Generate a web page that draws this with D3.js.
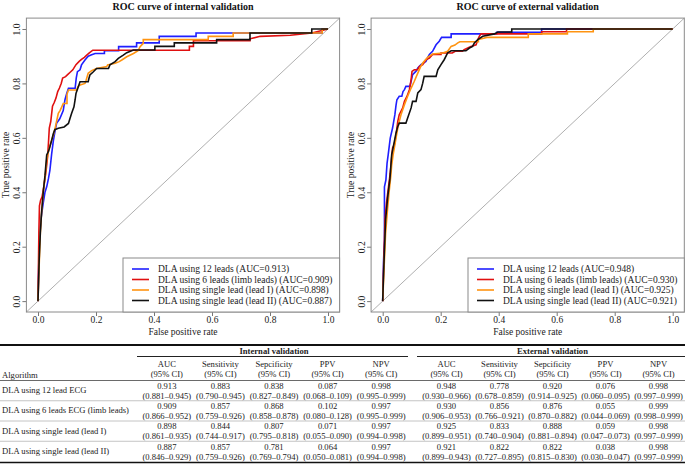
<!DOCTYPE html>
<html><head><meta charset="utf-8">
<script src="https://cdn.jsdelivr.net/npm/d3@7"></script>
<style>
html,body{margin:0;padding:0;background:#fff;}
svg{display:block;font-family:"Liberation Serif","Times New Roman",serif;}
</style></head>
<body><svg id="c" width="685" height="473"></svg>
<script>
// ---------- ROC data: [false positive rate, true positive rate] ----------
const intBlue = [[0,0],[0.004,0.2],[0.01,0.3],[0.018,0.36],[0.024,0.40],[0.03,0.42],[0.036,0.45],[0.041,0.48],[0.047,0.54],[0.053,0.59],[0.058,0.62],[0.064,0.653],[0.075,0.67],[0.087,0.70],[0.093,0.74],[0.099,0.763],[0.105,0.782],[0.128,0.782],[0.132,0.82],[0.136,0.843],[0.145,0.85],[0.15,0.868],[0.162,0.886],[0.173,0.90],[0.185,0.905],[0.197,0.91],[0.229,0.91],[0.229,0.92],[0.278,0.92],[0.278,0.935],[0.34,0.935],[0.34,0.949],[0.418,0.949],[0.418,0.973],[0.545,0.973],[0.545,0.985],[0.98,0.985],[0.98,1],[1,1]];
const intRed = [[0,0],[0.003,0.25],[0.005,0.35],[0.009,0.371],[0.014,0.383],[0.02,0.42],[0.028,0.48],[0.033,0.53],[0.036,0.58],[0.039,0.636],[0.044,0.66],[0.05,0.716],[0.056,0.73],[0.062,0.746],[0.068,0.77],[0.074,0.783],[0.08,0.80],[0.085,0.82],[0.095,0.825],[0.102,0.832],[0.11,0.84],[0.12,0.85],[0.131,0.869],[0.142,0.881],[0.15,0.888],[0.16,0.896],[0.168,0.904],[0.177,0.912],[0.189,0.922],[0.522,0.922],[0.522,0.936],[0.536,0.936],[0.536,0.957],[0.731,0.957],[0.731,0.964],[0.766,0.973],[0.87,0.977],[0.944,0.985],[1,1]];
const intOrange = [[0,0],[0.003,0.1],[0.008,0.25],[0.012,0.32],[0.02,0.42],[0.025,0.46],[0.03,0.518],[0.036,0.55],[0.041,0.57],[0.047,0.592],[0.053,0.61],[0.059,0.635],[0.064,0.66],[0.07,0.69],[0.076,0.70],[0.082,0.714],[0.087,0.726],[0.1,0.726],[0.1,0.76],[0.105,0.776],[0.133,0.776],[0.138,0.789],[0.145,0.794],[0.162,0.80],[0.166,0.812],[0.173,0.837],[0.185,0.847],[0.202,0.855],[0.237,0.862],[0.24,0.868],[0.266,0.874],[0.28,0.88],[0.289,0.886],[0.306,0.898],[0.329,0.91],[0.345,0.92],[0.352,0.935],[0.363,0.947],[0.363,0.961],[0.587,0.961],[0.587,0.973],[0.673,0.973],[0.673,0.985],[0.98,0.985],[0.98,1],[1,1]];
const intBlack = [[0,0],[0.004,0.15],[0.008,0.25],[0.012,0.32],[0.018,0.40],[0.024,0.46],[0.03,0.537],[0.036,0.55],[0.041,0.567],[0.047,0.59],[0.053,0.616],[0.058,0.63],[0.07,0.635],[0.09,0.64],[0.105,0.653],[0.11,0.67],[0.116,0.69],[0.124,0.714],[0.128,0.74],[0.131,0.763],[0.139,0.788],[0.145,0.806],[0.173,0.806],[0.176,0.82],[0.179,0.831],[0.191,0.843],[0.202,0.855],[0.243,0.855],[0.248,0.868],[0.266,0.88],[0.277,0.892],[0.294,0.904],[0.306,0.913],[0.329,0.923],[0.403,0.923],[0.403,0.936],[0.47,0.936],[0.47,0.949],[0.616,0.949],[0.616,0.961],[0.731,0.961],[0.731,0.985],[0.944,0.985],[0.944,1],[1,1]];

const extBlue = [[0,0],[0.003,0.15],[0.006,0.224],[0.006,0.42],[0.011,0.445],[0.015,0.506],[0.019,0.538],[0.026,0.599],[0.034,0.636],[0.042,0.685],[0.046,0.72],[0.049,0.74],[0.057,0.753],[0.066,0.753],[0.07,0.77],[0.075,0.777],[0.08,0.789],[0.094,0.789],[0.098,0.808],[0.103,0.832],[0.115,0.845],[0.121,0.857],[0.132,0.869],[0.149,0.881],[0.155,0.895],[0.161,0.906],[0.172,0.918],[0.184,0.942],[0.195,0.955],[0.203,0.969],[0.236,0.969],[0.236,0.982],[0.393,0.982],[0.393,0.988],[0.548,0.988],[0.548,1],[1,1]];
const extRed = [[0,0],[0.003,0.12],[0.008,0.3],[0.013,0.36],[0.02,0.42],[0.026,0.47],[0.034,0.5625],[0.04,0.575],[0.046,0.611],[0.052,0.66],[0.057,0.685],[0.069,0.71],[0.075,0.734],[0.084,0.753],[0.092,0.777],[0.098,0.814],[0.101,0.844],[0.109,0.85],[0.12,0.85],[0.126,0.862],[0.138,0.869],[0.149,0.887],[0.161,0.893],[0.172,0.906],[0.201,0.906],[0.201,0.912],[0.24,0.912],[0.25,0.918],[0.275,0.918],[0.281,0.924],[0.304,0.936],[0.322,0.942],[0.328,0.961],[0.333,0.973],[0.339,0.982],[0.548,0.982],[0.548,0.99],[0.634,0.99],[0.634,1],[1,1]];
const extOrange = [[0,0],[0.003,0.08],[0.01,0.25],[0.016,0.33],[0.022,0.40],[0.028,0.46],[0.031,0.50],[0.036,0.538],[0.04,0.5625],[0.046,0.6],[0.052,0.636],[0.057,0.66],[0.063,0.685],[0.075,0.722],[0.086,0.753],[0.098,0.783],[0.109,0.808],[0.121,0.838],[0.13,0.86],[0.138,0.875],[0.155,0.896],[0.172,0.908],[0.207,0.912],[0.224,0.918],[0.236,0.936],[0.249,0.941],[0.259,0.949],[0.266,0.953],[0.33,0.953],[0.33,0.961],[0.359,0.969],[0.502,0.969],[0.502,0.982],[0.637,0.982],[0.637,0.99],[0.726,0.99],[0.726,1],[1,1]];
const extBlack = [[0,0],[0.003,0.1],[0.01,0.3],[0.017,0.38],[0.025,0.45],[0.031,0.538],[0.038,0.575],[0.046,0.618],[0.052,0.642],[0.057,0.654],[0.08,0.654],[0.086,0.673],[0.098,0.71],[0.103,0.734],[0.115,0.734],[0.121,0.765],[0.132,0.777],[0.138,0.801],[0.143,0.826],[0.184,0.826],[0.19,0.85],[0.201,0.869],[0.212,0.887],[0.224,0.912],[0.236,0.92],[0.287,0.92],[0.299,0.93],[0.31,0.936],[0.316,0.949],[0.328,0.961],[0.345,0.973],[0.385,0.982],[0.397,0.989],[0.445,0.989],[0.445,1],[1,1]];

const seriesNames = ["DLA using 12 leads","DLA using 6 leads (limb leads)","DLA using single lead (lead I)","DLA using single lead (lead II)"];
const seriesColors = ["#1f1fff","#e01010","#ff9411","#111111"];
const intAUC = ["0.913","0.909","0.898","0.887"];
const extAUC = ["0.948","0.930","0.925","0.921"];
const axisTicks = [0,0.2,0.4,0.6,0.8,1.0];

// ---------- table data ----------
const algorithms = ["DLA using 12 lead ECG","DLA using 6 leads ECG (limb leads)","DLA using single lead (lead I)","DLA using single lead (lead II)"];
const metrics = ["AUC","Sensitivity","Sepcificity","PPV","NPV"];
const internalEst = [[0.913,0.883,0.838,0.087,0.998],[0.909,0.857,0.868,0.102,0.997],[0.898,0.844,0.807,0.071,0.997],[0.887,0.857,0.781,0.064,0.997]];
const internalCI = [["0.881–0.945","0.790–0.945","0.827–0.849","0.068–0.109","0.995–0.999"],["0.866–0.952","0.759–0.926","0.858–0.878","0.080–0.128","0.995–0.999"],["0.861–0.935","0.744–0.917","0.795–0.818","0.055–0.090","0.994–0.998"],["0.846–0.929","0.759–0.926","0.769–0.794","0.050–0.081","0.994–0.998"]];
const externalEst = [[0.948,0.778,0.920,0.076,0.998],[0.930,0.856,0.876,0.055,0.999],[0.925,0.833,0.888,0.059,0.998],[0.921,0.822,0.822,0.038,0.998]];
const externalCI = [["0.930–0.966","0.678–0.859","0.914–0.925","0.060–0.095","0.997–0.999"],["0.906–0.953","0.766–0.921","0.870–0.882","0.044–0.069","0.998–0.999"],["0.899–0.951","0.740–0.904","0.881–0.894","0.047–0.073","0.997–0.999"],["0.899–0.943","0.727–0.895","0.815–0.830","0.030–0.047","0.997–0.999"]];

const svg = d3.select("#c");

function rocPanel(cfg){
  const x = d3.scaleLinear().domain([-0.04,1.04]).range([cfg.x0,cfg.x1]);
  const y = d3.scaleLinear().domain([-0.04,1.04]).range([312,18.1]);
  const g = svg.append("g");
  g.append("line").attr("x1",x(-0.04)).attr("y1",y(-0.04)).attr("x2",x(1.04)).attr("y2",y(1.04))
    .attr("stroke","#9a9a9a").attr("stroke-width",0.8);
  const line = d3.line().x(d=>x(d[0])).y(d=>y(d[1]));
  cfg.series.forEach((s,i)=>{
    g.append("path").datum(s).attr("d",line).attr("fill","none")
      .attr("stroke",seriesColors[i]).attr("stroke-width",1.6).attr("stroke-linejoin","miter");
  });
  const ax = g.append("g").attr("transform",`translate(0,312)`)
    .call(d3.axisBottom(x).tickValues(axisTicks).tickFormat(d3.format(".1f")).tickSize(4).tickSizeOuter(0));
  ax.select(".domain").remove();
  ax.selectAll("line").attr("stroke","#777");
  ax.selectAll("text").attr("y",4).attr("dy","0.71em").attr("font-size",9.5).attr("fill","#222")
    .attr("font-family","Liberation Serif");
  const ay = g.append("g").attr("transform",`translate(${cfg.x0},0)`)
    .call(d3.axisLeft(y).tickValues(axisTicks).tickFormat(d3.format(".1f")).tickSize(4).tickSizeOuter(0));
  ay.select(".domain").remove();
  ay.selectAll("line").attr("stroke","#777");
  ay.selectAll("text").attr("transform","rotate(-90)").attr("x",0).attr("y",-6.5).attr("dy",0)
    .attr("text-anchor","middle").attr("font-size",9.5).attr("fill","#222").attr("font-family","Liberation Serif");
  g.append("rect").attr("x",cfg.x0).attr("y",18.1).attr("width",cfg.x1-cfg.x0).attr("height",312-18.1)
    .attr("fill","none").attr("stroke","#8a8a8a").attr("stroke-width",1);
  const cx = (cfg.x0+cfg.x1)/2;
  g.append("text").attr("x",cx).attr("y",10).attr("text-anchor","middle").attr("font-weight","bold")
    .attr("font-size",10).attr("fill","#111").text(cfg.title);
  g.append("text").attr("x",cx).attr("y",335).attr("text-anchor","middle").attr("font-size",9.5)
    .attr("fill","#222").text("False positive rate");
  g.append("text").attr("transform",`translate(${cfg.x0-17},165) rotate(-90)`).attr("text-anchor","middle")
    .attr("font-size",9.5).attr("fill","#222").text("True positive rate");
  const lg = g.append("g");
  lg.append("rect").attr("x",cfg.legX).attr("y",258).attr("width",cfg.x1-cfg.legX).attr("height",312-258)
    .attr("fill","#fff").attr("stroke","#8a8a8a").attr("stroke-width",1);
  const ly = d3.scalePoint().domain(d3.range(4)).range([269,300.5]);
  seriesNames.forEach((n,i)=>{
    lg.append("line").attr("x1",cfg.legX+9).attr("x2",cfg.legX+26).attr("y1",ly(i)).attr("y2",ly(i))
      .attr("stroke",seriesColors[i]).attr("stroke-width",1.6);
    lg.append("text").attr("x",cfg.legX+35).attr("y",ly(i)+3.3).attr("font-size",9.5).attr("fill","#222")
      .text(`${n} (AUC=${cfg.auc[i]})`);
  });
}

rocPanel({x0:26.4,x1:339.6,legX:123,title:"ROC curve of internal validation",series:[intBlue,intRed,intOrange,intBlack],auc:intAUC});
rocPanel({x0:371.1,x1:684.3,legX:468,title:"ROC curve of external validation",series:[extBlue,extRed,extOrange,extBlack],auc:extAUC});

// ---------- table ----------
const t = svg.append("g").attr("font-size",8.6).attr("fill","#222");
const colInt = d3.scaleBand().domain(metrics).range([140,408]);
const colExt = d3.scaleBand().domain(metrics).range([420,685]);
const rowY = d3.scaleBand().domain(algorithms).range([380.5,461.5]);

t.append("line").attr("x1",0).attr("x2",685).attr("y1",345).attr("y2",345).attr("stroke","#111").attr("stroke-width",2);
[[colInt,"Internal validation"],[colExt,"External validation"]].forEach(([sc,label])=>{
  const r = sc.range();
  t.append("text").attr("x",(r[0]+r[1])/2).attr("y",354).attr("text-anchor","middle").attr("font-weight","bold").text(label);
  t.append("line").attr("x1",r[0]-3).attr("x2",r[1]).attr("y1",356.5).attr("y2",356.5).attr("stroke","#222").attr("stroke-width",1);
  metrics.forEach(m=>{
    const cx = sc(m)+sc.bandwidth()/2;
    t.append("text").attr("x",cx).attr("y",367).attr("text-anchor","middle").text(m);
    t.append("text").attr("x",cx).attr("y",377.2).attr("text-anchor","middle").text("(95% CI)");
  });
});
t.append("text").attr("x",2).attr("y",378).text("Algorithm");
t.append("line").attr("x1",0).attr("x2",685).attr("y1",380.5).attr("y2",380.5).attr("stroke","#444").attr("stroke-width",0.8);

algorithms.forEach((a,i)=>{
  const top = rowY(a);
  if(i>0) t.append("line").attr("x1",0).attr("x2",685).attr("y1",top).attr("y2",top).attr("stroke","#b5b5b5").attr("stroke-width",0.8);
  t.append("text").attr("x",2).attr("y",top+12.5).text(a);
  [[colInt,internalEst,internalCI],[colExt,externalEst,externalCI]].forEach(([sc,est,ci])=>{
    metrics.forEach((m,j)=>{
      const cx = sc(m)+sc.bandwidth()/2;
      t.append("text").attr("x",cx).attr("y",top+8.3).attr("text-anchor","middle").text(est[i][j].toFixed(3));
      t.append("text").attr("x",cx).attr("y",top+18.3).attr("text-anchor","middle").text(`(${ci[i][j]})`);
    });
  });
});
t.append("line").attr("x1",0).attr("x2",685).attr("y1",462.5).attr("y2",462.5).attr("stroke","#111").attr("stroke-width",1.5);
</script></body></html>
